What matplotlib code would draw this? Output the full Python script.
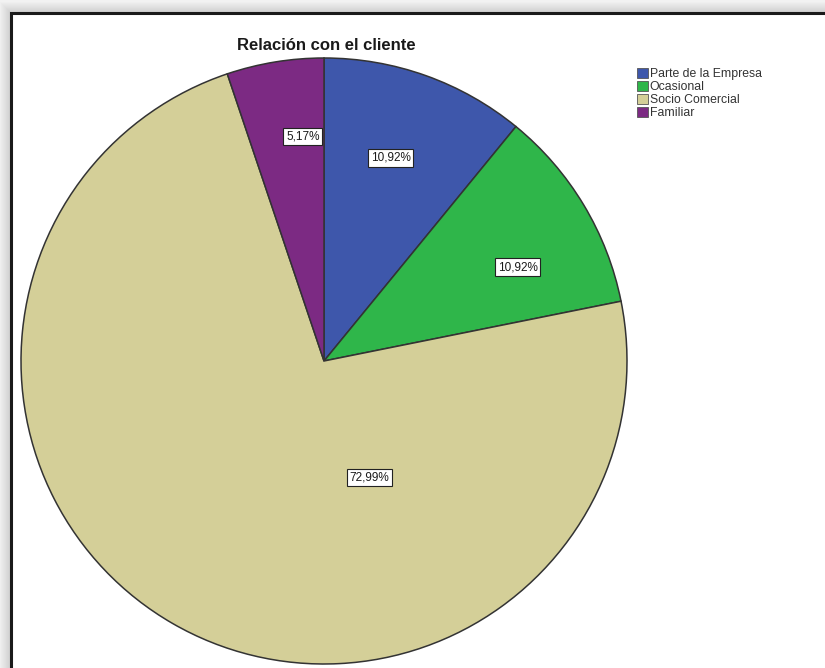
import numpy as np
import matplotlib
matplotlib.use("Agg")
import matplotlib.pyplot as plt
from matplotlib.patches import Rectangle

categories = ["Parte de la Empresa", "Ocasional", "Socio Comercial", "Familiar"]
percentages = [10.92, 10.92, 72.99, 5.17]
colors = ["#3e57ab", "#2fb64a", "#d4cf98", "#7c2a83"]
title = "Relación con el cliente"

plt.rcParams["font.family"] = ["Liberation Sans", "DejaVu Sans"]

W, H = 825, 668
fig = plt.figure(figsize=(W / 100, H / 100), dpi=100)

# background with a soft drop shadow around the chart frame
bg = fig.add_axes([0, 0, 1, 1])
bg.set_xlim(0, W)
bg.set_ylim(H, 0)
bg.axis("off")
yy, xx = np.mgrid[0:H, 0:W]
dist = np.minimum(xx - 11, yy - 13).astype(float)
shade = np.where(dist >= 0, 1.0, 0.80 + 0.15 * np.clip(-dist / 12, 0, 1))
img = np.dstack([shade, shade, shade])
bg.imshow(img, extent=(0, W, H, 0), interpolation="bilinear", aspect="auto")
bg.add_patch(Rectangle((11, 13), W + 20, H + 20, facecolor="white",
                       edgecolor="#1a1a1a", linewidth=2.2))

bg.text(326, 45, title, ha="center", va="center", fontsize=12,
        fontweight="bold", color="#1a1a1a")

# pie
cx, cy, R = 324, 361, 303
ax = fig.add_axes([(cx - R) / W, 1 - (cy + R) / H, 2 * R / W, 2 * R / H])
wedges, texts, autotexts = ax.pie(
    percentages, colors=colors, startangle=90, counterclock=False,
    autopct=lambda p: f"{p:.2f}%".replace(".", ","), pctdistance=0.71,
    wedgeprops=dict(edgecolor="#333333", linewidth=1.1),
    textprops=dict(fontsize=8.5, color="#1a1a1a"),
)
ax.set_aspect("equal")
ax.set_xlim(-1, 1)
ax.set_ylim(-1, 1)

for t, p in zip(autotexts, percentages):
    t.set_text(f"{p:.2f}%".replace(".", ","))
    t.set_bbox(dict(boxstyle="square,pad=0.22", facecolor="white",
                    edgecolor="#222222", linewidth=0.8))

# the large slice's label sits below-right of the centre
autotexts[0].set_position((0.22, 0.67))
autotexts[1].set_position((0.64, 0.31))
autotexts[2].set_position((0.15, -0.385))
autotexts[3].set_position((-0.07, 0.74))

# legend
leg = fig.legend(wedges, categories, loc="upper left",
                 bbox_to_anchor=(632 / W, 1 - 63 / H), frameon=False,
                 fontsize=8.8, handlelength=0.9, handleheight=0.9,
                 handletextpad=0.15, labelspacing=0.05, borderaxespad=0,
                 labelcolor="#333333")
for h in leg.legend_handles:
    h.set_edgecolor("#555555")
    h.set_linewidth(0.6)

fig.savefig("out.png", dpi=100)
